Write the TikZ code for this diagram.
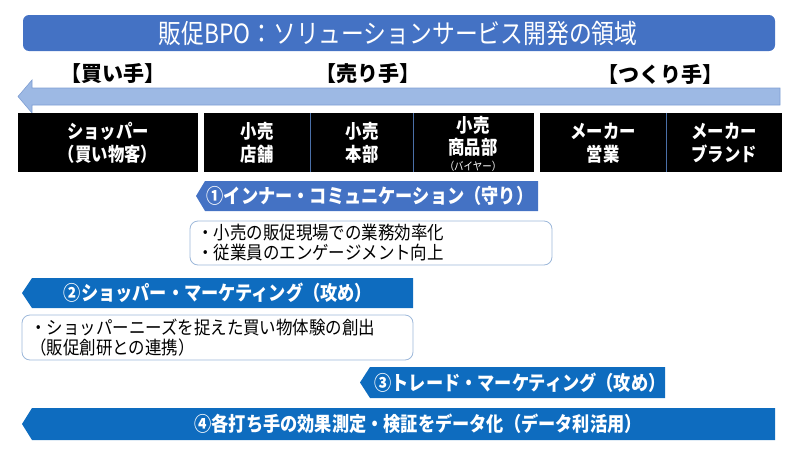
\documentclass[tikz,border=0pt]{standalone}
\usepackage{fontspec}
\setmainfont{Noto Sans CJK JP}
\newfontfamily\narrowjp[FakeStretch=0.86]{Noto Sans CJK JP}
\newfontfamily\listjp[FakeStretch=0.9]{Noto Sans CJK JP}
\definecolor{titleblue}{HTML}{4472C4}
\definecolor{deepblue}{HTML}{0E6CBF}
\definecolor{lightarrow}{HTML}{9DB9E4}
\definecolor{lightarrowedge}{HTML}{7F9FD3}
\definecolor{listedge}{HTML}{9DB8DA}
\definecolor{sepblue}{HTML}{4A6FA8}
\tikzset{
  boxtxt/.style={text=white, font=\narrowjp\fontsize{19}{23.5}\selectfont\bfseries, align=center, inner sep=0pt},
  arrowtxt/.style={text=white, font=\narrowjp\fontsize{20}{22}\selectfont\bfseries, inner sep=0pt},
  listtxt/.style={text=black, font=\listjp\fontsize{18.3}{20}\selectfont, align=left, anchor=west, inner sep=0pt},
  roletxt/.style={text=black, font=\fontsize{21}{24}\selectfont\bfseries, inner sep=0pt},
  listbox/.style={draw=listedge, fill=white, rounded corners=8pt, line width=0.8pt},
  blackbox/.style={fill=black},
  sepline/.style={draw=sepblue, line width=0.6pt}
}
\begin{document}
\begin{tikzpicture}[x=1pt,y=-1pt]
\useasboundingbox (0,0) rectangle (800,450);
% title
\fill[titleblue, rounded corners=6pt] (23,15) rectangle (775,51);
\node[text=white, font=\narrowjp\fontsize{26.5}{28}\selectfont, inner sep=0pt] (title) at (398,33) {販促BPO：ソリューションサービス開発の領域};
% roles
\node[roletxt] (buyer) at (113,74) {【買い手】};
\node[roletxt] (seller) at (368,74) {【売り手】};
\node[roletxt] (maker) at (660,74) {【つくり手】};
% big arrow
\draw[fill=lightarrow, draw=lightarrowedge, line width=0.6pt]
  (780,88) -- (32,88) -- (32,80) -- (18,96.5) -- (32,113) -- (32,105) -- (780,105) -- cycle;
% black boxes
\fill[blackbox] (18,113) rectangle (198,172);
\fill[blackbox] (204,113) rectangle (534,172);
\fill[blackbox] (540,113) rectangle (782,172);
\draw[sepline] (310,113) -- (310,172);
\draw[sepline] (413,113) -- (413,172);
\draw[sepline] (666,113) -- (666,172);
\node[boxtxt] (shopper) at (108,143) {ショッパー\\（買い物客）};
\node[boxtxt] (store) at (257,143) {小売\\店舗};
\node[boxtxt] (hq) at (362,143) {小売\\本部};
\node[boxtxt, font=\narrowjp\fontsize{19}{22}\selectfont\bfseries] (buyerdept) at (473,136) {小売\\商品部};
\node[text=white, font=\narrowjp\fontsize{11}{12}\selectfont, inner sep=0pt] (buyerlbl) at (473,166) {（バイヤー）};
\node[boxtxt] (makersales) at (603,143) {メーカー\\営業};
\node[boxtxt] (makerbrand) at (724,143) {メーカー\\ブランド};
% arrow 1
\fill[titleblue] (538,181) -- (205,181) -- (196,196) -- (205,211) -- (538,211) -- cycle;
\node[arrowtxt] (a1) at (370,196) {①インナー・コミュニケーション（守り）};
\draw[listbox] (190,221) rectangle (552,265);
\node[listtxt] (l1) at (197,243) {・小売の販促現場での業務効率化\\・従業員のエンゲージメント向上};
% arrow 2
\fill[deepblue] (413,278) -- (32,278) -- (22,293) -- (32,308) -- (413,308) -- cycle;
\node[arrowtxt] (a2) at (218,293) {②ショッパー・マーケティング（攻め）};
\draw[listbox] (22,315) rectangle (413,360);
\node[listtxt] (l2) at (30,337.5) {・ショッパーニーズを捉えた買い物体験の創出\\（販促創研との連携）};
% arrow 3
\fill[deepblue] (665,367) -- (370,367) -- (360,382.5) -- (370,398) -- (665,398) -- cycle;
\node[arrowtxt] (a3) at (520,382.5) {③トレード・マーケティング（攻め）};
% arrow 4
\fill[deepblue] (775,408) -- (32,408) -- (22,424) -- (32,440) -- (775,440) -- cycle;
\node[arrowtxt] (a4) at (418,424) {④各打ち手の効果測定・検証をデータ化（データ利活用）};
\end{tikzpicture}
\end{document}
